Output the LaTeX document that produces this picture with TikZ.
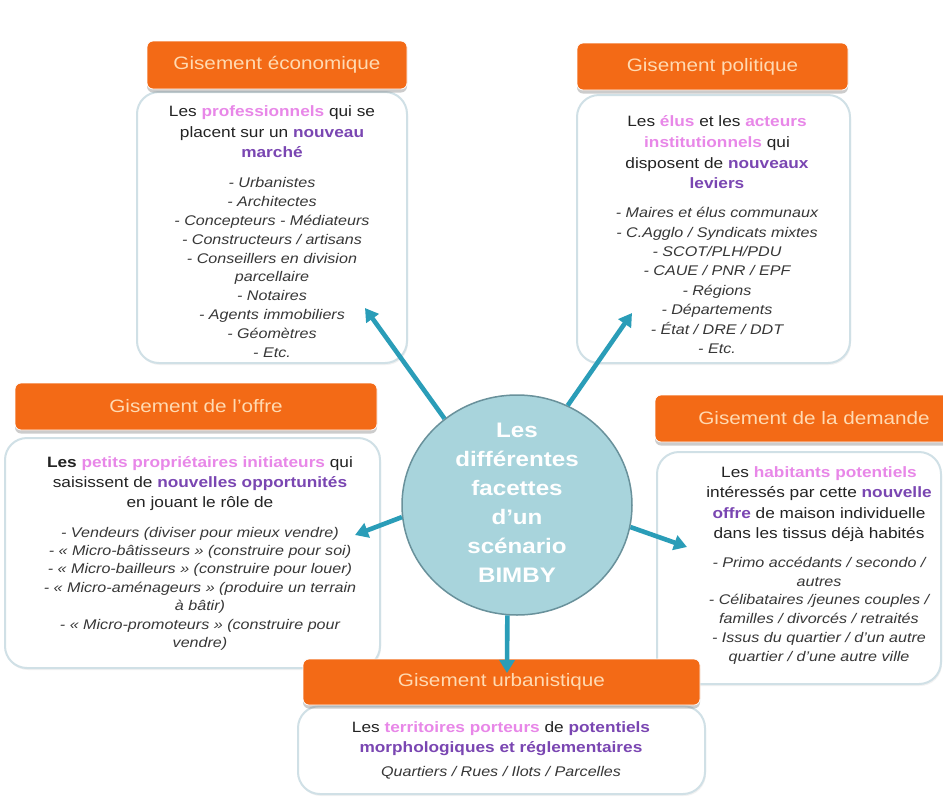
\documentclass[tikz,border=0pt]{standalone}
\usepackage{fontspec}
\setmainfont{Liberation Sans}[FakeStretch=1.15]
\usetikzlibrary{shapes.geometric,arrows.meta,shadows}
\definecolor{hdr}{RGB}{243,106,22}
\definecolor{hdrtxt}{RGB}{255,218,178}
\definecolor{pinkw}{RGB}{232,135,232}
\definecolor{purpw}{RGB}{122,70,178}
\definecolor{txt}{RGB}{35,35,35}
\definecolor{listc}{RGB}{55,55,55}
\definecolor{bord}{RGB}{208,224,230}
\definecolor{circfill}{RGB}{168,212,220}
\definecolor{circbord}{RGB}{105,145,155}
\definecolor{arr}{RGB}{42,157,184}
\newcommand{\hlpk}[1]{\textbf{\color{pinkw}#1}}
\newcommand{\hlpu}[1]{\textbf{\color{purpw}#1}}
\begin{document}
\begin{tikzpicture}[x=1pt,y=-1pt,
  header/.style={fill=hdr, draw=white, line width=0.8pt, rounded corners=6pt,
    drop shadow={opacity=0.4, shadow xshift=0pt, shadow yshift=-3.5pt},
    text=hdrtxt, font=\fontsize{18}{20}\selectfont, inner sep=0pt},
  bodybox/.style={fill=white, draw=bord, line width=2pt, rounded corners=22pt, inner sep=0pt,
    drop shadow={opacity=0.10, shadow xshift=1pt, shadow yshift=-2pt}},
  headtext/.style={align=center, inner sep=0pt, anchor=north, text=txt,
    font=\fontsize{15}{#1}\selectfont},
  listtext/.style={align=center, inner sep=0pt, anchor=north, text=listc,
    font=\fontsize{14}{#1}\selectfont\itshape},
  hub/.style={ellipse, fill=circfill, draw=circbord, line width=1.5pt, inner sep=0pt},
  conn/.style={draw=arr, line width=4.6pt, -{Triangle[length=13pt,width=15pt]}}
]
\path[use as bounding box] (0,0) rectangle (943,796);
\clip (0,0) rectangle (943,796);
\fill[white] (0,0) rectangle (943,796);

% body boxes
\node[bodybox, minimum width=270pt, minimum height=271pt] (ecobox) at (272,227.5) {};
\node[bodybox, minimum width=273pt, minimum height=268pt] (polbox) at (713.5,229) {};
\node[bodybox, minimum width=375pt, minimum height=230pt] (offbox) at (192.5,553) {};
\node[bodybox, minimum width=284pt, minimum height=232pt] (dembox) at (799,568) {};
\node[bodybox, minimum width=407pt, minimum height=88pt] (urbbox) at (501.5,750) {};

% headers
\node[header, minimum width=260pt, minimum height=48pt] (ecohdr) at (277,65) {Gisement économique};
\node[header, minimum width=271pt, minimum height=47pt] (polhdr) at (712.5,66.5) {Gisement politique};
\node[header, minimum width=362pt, minimum height=47pt] (offhdr) at (196,406.5) {Gisement de l'offre};
\node[header, minimum width=318pt, minimum height=47pt] (demhdr) at (814,418.5) {Gisement de la demande};
\node[header, minimum width=397pt, minimum height=46pt] (urbhdr) at (501.5,682) {Gisement urbanistique};

% texts
\node[headtext=20.5] (ecoh) at (272,102) {\strut Les \hlpk{professionnels} qui se\\placent sur un \hlpu{nouveau}\\\hlpu{marché}};
\node[listtext=18.9] (ecol) at (272,174) {\strut - Urbanistes\\- Architectes\\- Concepteurs - Médiateurs\\- Constructeurs / artisans\\-  Conseillers en division\\parcellaire\\- Notaires\\- Agents immobiliers\\- Géomètres\\- Etc.};

\node[headtext=20.7] (polh) at (717,112) {\strut Les \hlpk{élus} et les \hlpk{acteurs}\\\hlpk{institutionnels} qui\\disposent de \hlpu{nouveaux}\\\hlpu{leviers}};
\node[listtext=19.4] (poll) at (717,204) {\strut -  Maires et élus communaux\\-  C.Agglo / Syndicats mixtes\\- SCOT/PLH/PDU\\- CAUE / PNR /  EPF\\- Régions\\- Départements\\- État / DRE / DDT\\- Etc.};

\node[headtext=19.6] (offh) at (200,454) {\strut \textbf{Les} \hlpk{petits propriétaires initiateurs} qui\\saisissent de \hlpu{nouvelles opportunités}\\en jouant le rôle de};
\node[listtext=18.4] (offl) at (200,524) {\strut - Vendeurs (diviser pour mieux vendre)\\- « Micro-bâtisseurs » (construire pour soi)\\- « Micro-bailleurs » (construire pour louer)\\- « Micro-aménageurs » (produire un terrain\\à bâtir)\\- « Micro-promoteurs » (construire pour\\vendre)};

\node[headtext=20.3] (demh) at (819,463) {\strut Les \hlpk{habitants potentiels}\\intéressés par cette \hlpu{nouvelle}\\\hlpu{offre} de maison individuelle\\dans les tissus déjà habités};
\node[listtext=18.8] (deml) at (819,554) {\strut -  Primo accédants / secondo /\\autres\\-  Célibataires /jeunes couples /\\familles / divorcés / retraités\\-  Issus du quartier / d'un autre\\quartier / d'une autre ville};

\node[headtext=20] (urbh) at (501,718) {\strut Les \hlpk{territoires porteurs} de \hlpu{potentiels}\\\hlpu{morphologiques et réglementaires}};
\node[listtext=19] (urbl) at (501,763) {\strut Quartiers / Rues / Ilots / Parcelles};

% hub
\node[hub, minimum width=230pt, minimum height=220pt] (hubc) at (517,505) {};
\node[align=center, text=white, inner sep=0pt, font=\fontsize{21}{29}\selectfont\bfseries] (hubtext) at (517,503) {Les\\différentes\\facettes\\d'un\\scénario\\BIMBY};

% connectors
\coordinate (ecotip) at (365,308);
\coordinate (poltip) at (632,313);
\coordinate (offtip) at (355,535);
\coordinate (demtip) at (687,547);
\coordinate (urbtip) at (507,673);
\draw[conn] (hubc.130) -- (ecotip);
\draw[conn] (hubc.63) -- (poltip);
\draw[conn] (hubc.186) -- (offtip);
\draw[conn] (hubc.349) -- (demtip);
\draw[conn] (hubc.265) -- (urbtip);
\end{tikzpicture}
\end{document}
